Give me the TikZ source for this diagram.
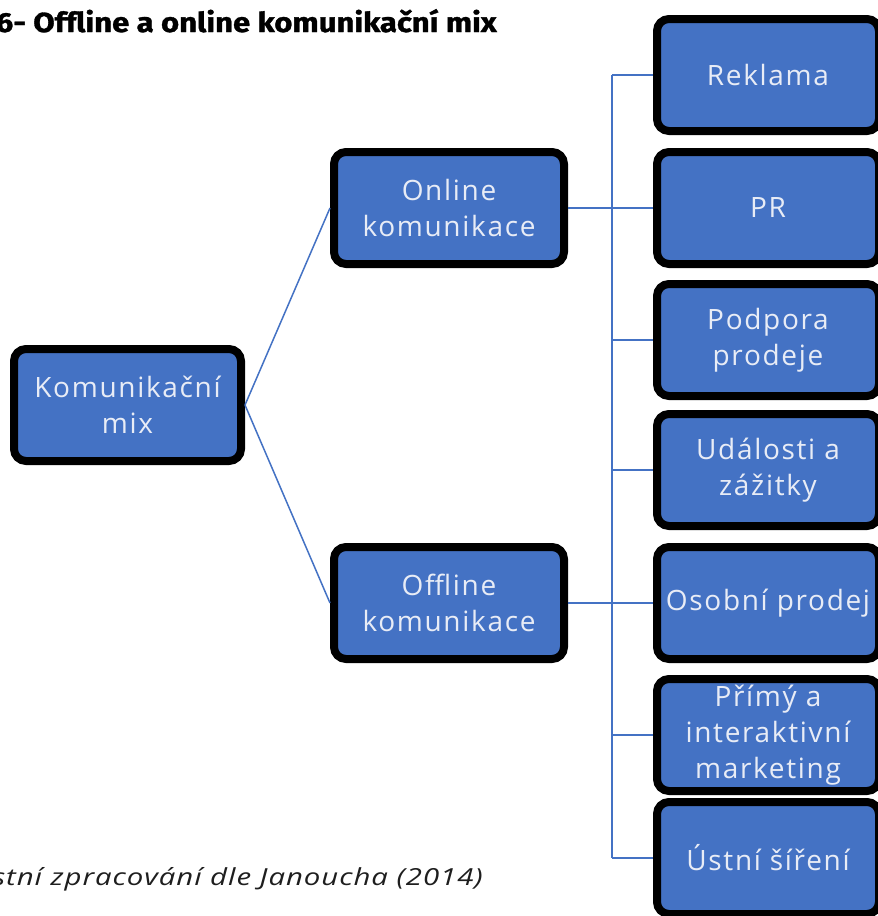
\documentclass[tikz,border=0pt]{standalone}
\usepackage{fontspec}
\setmainfont{Open Sans}
\newfontfamily\boxfont[LetterSpace=6]{Open Sans}
\newfontfamily\titlefont[FakeStretch=1.13, FakeBold=1.2]{Fira Sans}
\newfontfamily\capfont[FakeStretch=1.25, LetterSpace=4]{Open Sans}
\definecolor{boxblue}{RGB}{68,114,196}
\definecolor{boxtext}{RGB}{232,236,246}
\definecolor{captext}{RGB}{30,30,30}
\tikzset{
  mixbox/.style={draw=black, line width=8pt, fill=boxblue, rounded corners=12pt,
    minimum height=112pt, align=center, text=boxtext,
    font=\boxfont\fontsize{28}{36}\selectfont, inner sep=0pt},
  rootbox/.style={mixbox, minimum width=227pt},
  midbox/.style={mixbox, minimum width=230pt},
  leafbox/.style={mixbox, minimum width=222pt},
  link/.style={draw=boxblue, line width=1.5pt}
}
\begin{document}
\begin{tikzpicture}[x=1pt,y=-1pt]
\useasboundingbox (0,0) rectangle (878,916);
\fill[white] (0,0) rectangle (878,916);

% heading and source line
\node[anchor=base east, inner sep=0pt, font=\titlefont\bfseries\fontsize{27.5}{33}\selectfont]
  (title) at (497,32) {6- Offline a online komunikační mix};
\node[anchor=base east, inner sep=0pt, text=captext, font=\capfont\itshape\fontsize{23.5}{28}\selectfont]
  (source) at (483,885) {stní zpracování dle Janoucha (2014)};

% boxes
\node[rootbox] (root) at (127.5,405) {Komunikační\\mix};
\node[midbox] (online) at (449,208) {Online\\komunikace};
\node[midbox] (offline) at (449,603) {Offline\\komunikace};

\node[leafbox] (l1) at (768,75) {Reklama};
\node[leafbox] (l2) at (768,208) {PR};
\node[leafbox] (l3) at (768,340) {Podpora\\prodeje};
\node[leafbox] (l4) at (768,470) {Události a\\zážitky};
\node[leafbox] (l5) at (768,603) {Osobní prodej};
\node[leafbox] (l6) at (768,735) {Přímý a\\interaktivní\\marketing};
\node[leafbox] (l7) at (768,858) {Ústní šíření};

% connectors
\coordinate (bustop) at (612,75);
\coordinate (busbot) at (612,858);
\draw[link] (root.east) -- (online.west);
\draw[link] (root.east) -- (offline.west);
\draw[link] (online.east) -- (online.east -| bustop);
\draw[link] (offline.east) -- (offline.east -| bustop);
\draw[link] (bustop) -- (busbot);
\foreach \n in {l1,l2,l3,l4,l5,l6,l7}
  \draw[link] (\n.west -| bustop) -- (\n.west);
\end{tikzpicture}
\end{document}
